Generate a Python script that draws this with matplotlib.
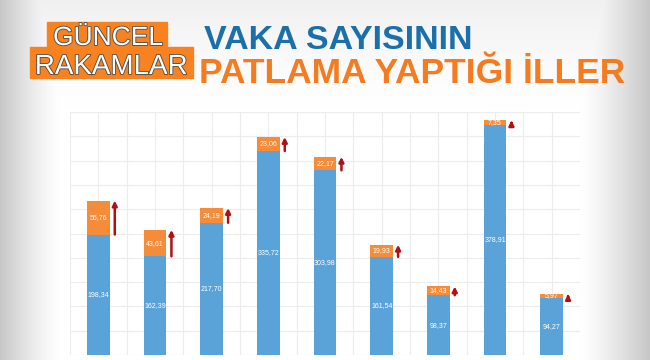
import numpy as np
import matplotlib
matplotlib.use('Agg')
import matplotlib.pyplot as plt
import matplotlib.patheffects as pe

# değerler (mavi: önceki, turuncu: artış)
iller = ['1', '2', '3', '4', '5', '6', '7', '8', '9']
onceki = [198.34, 162.39, 217.70, 335.72, 303.98, 161.54, 98.37, 378.91, 94.27]
artis = [55.76, 43.61, 24.19, 23.06, 22.17, 19.93, 14.43, 7.35, 5.97]

MAVI = '#5aa3d8'
TURUNCU = '#f58c3a'
KIRMIZI = '#b01015'

fig = plt.figure(figsize=(6.5, 3.6), dpi=100)

# arka plan: kenarlarda gri gölge
bg = fig.add_axes([0, 0, 1, 1], zorder=0)
xx = np.linspace(0, 650, 650)
yy = np.linspace(0, 360, 360)
X, Y = np.meshgrid(xx, yy)
sol = np.clip(1 - X / 60, 0, 1)
sag = np.clip(1 - (650 - X) / 70, 0, 1)
ust = np.clip(1 - Y / 110, 0, 1) * 0.35
koyu = np.maximum(np.maximum(sol, sag), ust)
img = 1 - 0.22 * koyu ** 1.3
bg.imshow(np.dstack([img, img, img]), extent=[0, 650, 360, 0], aspect='auto')
bg.set_xlim(0, 650)
bg.set_ylim(360, 0)
bg.axis('off')

# grafik alanı
ax = fig.add_axes([70 / 650, 5 / 360, 510 / 650, 243 / 360], zorder=1)
ax.patch.set_alpha(0)
x = np.arange(len(iller))
w = 0.4
ax.bar(x, onceki, width=w, color=MAVI, zorder=3)
ax.bar(x, artis, width=w, bottom=onceki, color=TURUNCU, zorder=3)

for i in range(len(iller)):
    ax.text(x[i], onceki[i] / 2, f'{onceki[i]:.2f}'.replace('.', ','),
            ha='center', va='center', color='white', fontsize=5,
            family='Liberation Sans', zorder=4)
    ax.text(x[i], onceki[i] + artis[i] / 2, f'{artis[i]:.2f}'.replace('.', ','),
            ha='center', va='center', color='white', fontsize=5,
            family='Liberation Sans', zorder=4)
    ax.annotate('', xy=(x[i] + 0.29, onceki[i] + artis[i]),
                xytext=(x[i] + 0.29, onceki[i]),
                arrowprops=dict(arrowstyle='-|>', color=KIRMIZI, lw=1.8,
                                mutation_scale=7, shrinkA=0, shrinkB=0),
                zorder=5)

ax.set_xlim(-0.5, 8.5)
ax.set_ylim(0, 400)
ax.set_yticks(np.arange(0, 401, 40))
ax.set_xticks(np.arange(-0.5, 8.6, 0.5))
ax.grid(True, color='#ececec', lw=0.8, zorder=0)
ax.tick_params(length=0, labelleft=False, labelbottom=False)
for s in ax.spines.values():
    s.set_visible(False)

# başlık
baslik = fig.add_axes([0, 0, 1, 1], zorder=2)
baslik.set_xlim(0, 650)
baslik.set_ylim(360, 0)
baslik.axis('off')
baslik.add_patch(plt.Rectangle((47, 22), 120, 27, color='#f7821f'))
baslik.add_patch(plt.Rectangle((30, 47), 163, 31, color='#f7821f'))
kenar = [pe.withStroke(linewidth=1.2, foreground='#4a4a4a')]
baslik.text(108, 45, 'GÜNCEL', ha='center', va='baseline', color='white',
            fontsize=19, family='Liberation Sans', path_effects=kenar)
baslik.text(111, 74, 'RAKAMLAR', ha='center', va='baseline', color='white',
            fontsize=20, family='Liberation Sans', path_effects=kenar)
baslik.text(204, 49, 'VAKA SAYISININ', ha='left', va='baseline', color='#1b70a9',
            fontsize=24.5, fontweight='bold', family='Liberation Sans')
baslik.text(199, 83, 'PATLAMA YAPTIĞI İLLER', ha='left', va='baseline', color='#f47b20',
            fontsize=25.5, fontweight='bold', family='Liberation Sans')

fig.savefig('out.png', dpi=100)
